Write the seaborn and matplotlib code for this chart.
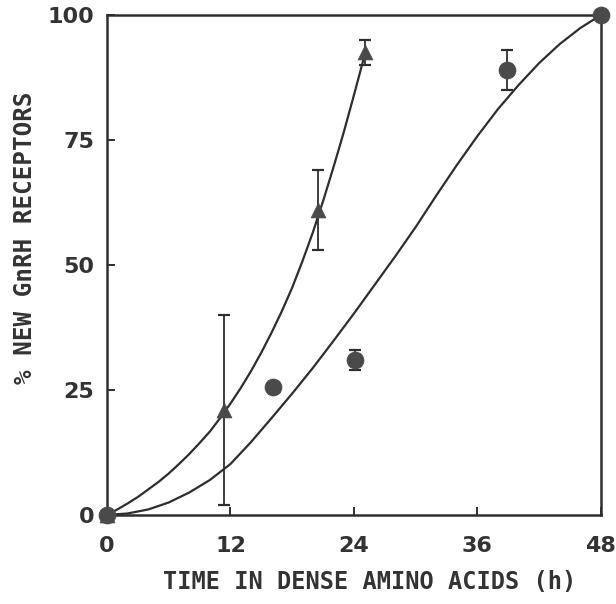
import matplotlib
matplotlib.use("Agg")
import matplotlib.pyplot as plt
import seaborn as sns
import pandas as pd

# Measured points (mean +/- SE)
tri_time = [0, 11.4, 20.5, 25.1]
tri_pct = [0, 21, 61, 92.5]
tri_err = [0, 19, 8, 2.5]

circ_time = [0, 16.1, 24.1, 38.9, 48]
circ_pct = [0, 25.5, 31, 89, 100]
circ_err = [0, 0, 2, 4, 0]

# Fitted curves, sampled along their length
fit_fast_time = [0, 1, 2, 3, 4, 5, 6, 7, 8, 9, 10, 11, 12, 13, 14, 15, 16,
                 17, 18, 19, 20, 21, 22, 23, 24, 25.1]
fit_fast_pct = [0, 1.1, 2.3, 3.6, 5.1, 6.6, 8.3, 10.2, 12.2, 14.4, 16.7,
                19.4, 22.3, 25.4, 28.8, 32.5, 36.5, 40.8, 45.5, 50.8, 56.5,
                62.8, 69.5, 76.5, 84.0, 92.5]

fit_slow_time = [0, 2, 4, 6, 8, 10, 12, 14, 16, 18, 20, 22, 24, 26, 28, 30,
                 32, 34, 36, 38, 40, 42, 44, 46, 48]
fit_slow_pct = [0, 0.3, 1.1, 2.5, 4.5, 7.0, 10.2, 14.6, 19.4, 24.3, 29.4,
                34.8, 40.3, 46.0, 51.7, 57.6, 63.9, 70.0, 75.8, 81.2, 86.0,
                90.4, 94.2, 97.4, 100]

x_ticks = [0, 12, 24, 36, 48]
y_ticks = [0, 25, 50, 75, 100]

sns.set_style("ticks")
plt.rcParams["font.family"] = ["DejaVu Sans Mono", "DejaVu Sans"]
plt.rcParams["font.weight"] = "bold"

ink = "#2e2e2e"
mark = "#4a4a4a"
text_col = "#333333"

fig = plt.figure(figsize=(6.16, 6.04), dpi=100)
ax = fig.add_axes([0.1737, 0.1474, 0.8019, 0.8278])

fast = pd.DataFrame({"t": fit_fast_time, "p": fit_fast_pct})
slow = pd.DataFrame({"t": fit_slow_time, "p": fit_slow_pct})
sns.lineplot(data=fast, x="t", y="p", ax=ax, color=ink, lw=1.6, sort=False)
sns.lineplot(data=slow, x="t", y="p", ax=ax, color=ink, lw=1.6, sort=False)

ax.errorbar(tri_time, tri_pct, yerr=tri_err, fmt="none", ecolor=ink,
            elinewidth=1.3, capsize=4, capthick=1.6, clip_on=False)
ax.errorbar(circ_time, circ_pct, yerr=circ_err, fmt="none", ecolor=ink,
            elinewidth=1.3, capsize=4, capthick=1.6, clip_on=False)

tri = pd.DataFrame({"t": tri_time, "p": tri_pct})
circ = pd.DataFrame({"t": circ_time, "p": circ_pct})
sns.scatterplot(data=tri, x="t", y="p", ax=ax, marker="^", s=115,
                color=mark, edgecolor=mark, linewidth=0.5, clip_on=False, zorder=5)
sns.scatterplot(data=circ, x="t", y="p", ax=ax, marker="o", s=150,
                color=mark, edgecolor=mark, linewidth=0.5, clip_on=False, zorder=5)

ax.set_xlim(0, 48)
ax.set_ylim(0, 100)
ax.set_xticks(x_ticks)
ax.set_yticks(y_ticks)
ax.tick_params(direction="in", length=6, width=1.4, colors=ink, labelsize=16)
ax.tick_params(axis="y", pad=9)
ax.tick_params(axis="x", pad=15)
for lab in ax.get_xticklabels() + ax.get_yticklabels():
    lab.set_fontfamily(["DejaVu Sans"])
    lab.set_fontweight("bold")
    lab.set_color(text_col)

for side in ["left", "right", "top", "bottom"]:
    ax.spines[side].set_visible(True)
    ax.spines[side].set_linewidth(1.8)
    ax.spines[side].set_color(ink)

ax.set_xlabel("TIME IN DENSE AMINO ACIDS (h)", fontsize=17, fontweight="bold",
              color=text_col)
ax.set_ylabel("% NEW GnRH RECEPTORS", fontsize=17.5, fontweight="bold",
              color=text_col)
ax.xaxis.set_label_coords(0.532, -0.11)
ax.yaxis.set_label_coords(-0.142, 0.554)

fig.savefig("out.png", dpi=100, facecolor="white")
